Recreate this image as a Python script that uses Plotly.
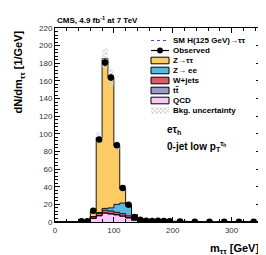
import plotly.graph_objects as go

# ---------------- data ----------------
bin_edges = [0, 10, 20, 30, 40, 50, 60, 70, 80, 90, 100, 110, 120, 130, 140, 150,
             160, 170, 180, 190, 200, 225, 250, 275, 300, 325, 350]

qcd   = [0, 0, 0, 0, 0.3, 0.8, 4.0, 7.0, 10.0, 9.0, 8.0, 6.5, 4.5, 2.0, 1.0, 0.6,
         0.5, 0.4, 0.3, 0.2, 0.15, 0.1, 0.1, 0.05, 0.05, 0.05]
ttbar = [0, 0, 0, 0, 0, 0.1, 0.2, 0.3, 0.4, 0.5, 0.5, 0.5, 0.5, 0.4, 0.4, 0.3,
         0.3, 0.3, 0.2, 0.2, 0.2, 0.15, 0.1, 0.1, 0.1, 0.05]
wjets = [0, 0, 0, 0, 0.1, 0.2, 1.5, 2.5, 3.0, 3.0, 2.5, 2.5, 2.0, 1.5, 1.0, 0.8,
         0.6, 0.5, 0.4, 0.3, 0.25, 0.2, 0.15, 0.1, 0.1, 0.05]
zee   = [0, 0, 0, 0, 0, 0, 0.5, 1.0, 2.0, 3.5, 9.0, 12.0, 11.0, 4.0, 1.2, 0.5,
         0.3, 0.2, 0.2, 0.1, 0.1, 0.05, 0.05, 0.02, 0.02, 0.02]
ztt   = [0, 0, 0, 0, 0, 0.3, 6.0, 85.0, 170.0, 148.0, 67.0, 16.0, 2.0, 0.5, 0.3, 0.2,
         0.15, 0.1, 0.1, 0.1, 0.05, 0.05, 0.02, 0.02, 0.02, 0.01]
bkg_unc = [0, 0, 0, 0, 0.1, 0.2, 1.0, 6.0, 11.0, 9.5, 5.0, 2.4, 1.3, 0.6, 0.3, 0.2,
           0.15, 0.1, 0.1, 0.08, 0.05, 0.04, 0.03, 0.02, 0.02, 0.02]

obs_x   = [45, 55, 65, 75, 85, 95, 105, 115, 125, 135, 145, 155, 165, 175, 185, 195,
           212.5, 237.5, 262.5, 287.5, 312.5, 337.5]
obs_y   = [0.9, 0.9, 12.8, 93.5, 181.0, 164.0, 87.0, 38.5, 19.5, 5.7, 2.6, 1.5,
           1.2, 1.3, 1.0, 0.8, 0.5, 0.4, 0.3, 0.3, 0.3, 0.2]
obs_err = [0.3, 0.3, 1.1, 3.1, 4.3, 4.0, 3.0, 2.0, 1.4, 0.8, 0.5, 0.4, 0.35, 0.36,
           0.3, 0.28, 0.14, 0.13, 0.11, 0.11, 0.11, 0.09]

x_ticks = [0, 100, 200, 300]
y_ticks = [0, 20, 40, 60, 80, 100, 120, 140, 160, 180, 200, 220]

# --------------- styles ---------------
FONT = "Liberation Sans"
C_ZTT, C_ZEE, C_W, C_TT, C_QCD = "#FDCB66", "#5DB7E4", "#DF5A6B", "#9B98CC", "#FCC8FA"

def step_y(vals):
    return list(vals) + [vals[-1]]

fig = go.Figure()

# stacked backgrounds (bottom to top)
components = [("QCD", qcd, C_QCD), ("tt", ttbar, C_TT), ("W+jets", wjets, C_W),
              ("Z->ee", zee, C_ZEE), ("Z->tautau", ztt, C_ZTT)]
cum = [0.0] * len(qcd)
first = True
for name, vals, col in components:
    cum = [a + b for a, b in zip(cum, vals)]
    fig.add_trace(go.Scatter(
        x=bin_edges, y=step_y(cum), mode="lines", line_shape="hv",
        line=dict(color="black", width=0.9), fill="tozeroy" if first else "tonexty",
        fillcolor=col, showlegend=False, hoverinfo="skip"))
    first = False
total = cum

# background uncertainty band
lo = [t - u for t, u in zip(total, bkg_unc)]
hi = [t + u for t, u in zip(total, bkg_unc)]
fig.add_trace(go.Scatter(x=bin_edges, y=step_y(lo), mode="lines", line_shape="hv",
                         line=dict(width=0, color="rgba(0,0,0,0)"), showlegend=False,
                         hoverinfo="skip"))
fig.add_trace(go.Scatter(x=bin_edges, y=step_y(hi), mode="lines", line_shape="hv",
                         line=dict(width=0, color="rgba(0,0,0,0)"), fill="tonexty",
                         fillcolor="rgba(0,0,0,0)",
                         fillpattern=dict(shape="x", fgcolor="#888888", bgcolor="rgba(255,255,255,0.35)",
                                          size=3, solidity=0.45),
                         showlegend=False, hoverinfo="skip"))

# observed data
fig.add_trace(go.Scatter(
    x=obs_x, y=obs_y, mode="markers",
    marker=dict(color="black", size=6.5, symbol="circle"),
    error_y=dict(type="data", array=obs_err, visible=True, color="black", thickness=1, width=0),
    showlegend=False, hoverinfo="skip"))

# --------------- manual legend ---------------
L, T, W, H = 47, 20, 206, 194          # plot area in pixels
def px(x): return (x - L) / W
def py(y): return (T + H - y) / H

legend_rows = [
    ("line_dash", "SM H(125 GeV)→ττ", None),
    ("obs", "Observed", None),
    ("box", "Z→ττ", C_ZTT),
    ("box", "Z→ ee", C_ZEE),
    ("box", "W+jets", C_W),
    ("box", "t<span style='text-decoration:overline'>t</span>", C_TT),
    ("box", "QCD", C_QCD),
    ("hatch", "Bkg. uncertainty", None),
]
sx0, sx1, tx = 143, 161, 163
for i, (kind, label, col) in enumerate(legend_rows):
    yc = 32.5 + 10 * i
    if kind == "line_dash":
        fig.add_shape(type="line", xref="paper", yref="paper", x0=px(sx0), x1=px(sx1),
                      y0=py(yc), y1=py(yc), line=dict(color="#4444FF", width=1.2, dash="dot"))
    elif kind == "obs":
        fig.add_shape(type="line", xref="paper", yref="paper", x0=px(sx0), x1=px(sx1),
                      y0=py(yc), y1=py(yc), line=dict(color="black", width=1.2))
        fig.add_shape(type="circle", xref="paper", yref="paper", x0=px(149), x1=px(155),
                      y0=py(yc + 3), y1=py(yc - 3), fillcolor="black", line=dict(width=0))
    elif kind == "box":
        fig.add_shape(type="rect", xref="paper", yref="paper", x0=px(sx0), x1=px(sx1),
                      y0=py(yc + 3.3), y1=py(yc - 3.3), fillcolor=col,
                      line=dict(color="black", width=1))
    else:
        fig.add_trace(go.Scatter(
            x=[px(sx0), px(sx1), px(sx1), px(sx0), px(sx0)],
            y=[py(yc + 3.3), py(yc + 3.3), py(yc - 3.3), py(yc - 3.3), py(yc + 3.3)],
            xaxis="x2", yaxis="y2", mode="lines", line=dict(width=0), fill="toself",
            fillcolor="rgba(0,0,0,0)",
            fillpattern=dict(shape="x", fgcolor="#888888", bgcolor="white", size=3, solidity=0.45),
            showlegend=False, hoverinfo="skip"))
    fig.add_annotation(xref="paper", yref="paper", x=px(tx), y=py(yc), xanchor="left",
                       yanchor="middle", text="<b>" + label + "</b>", showarrow=False,
                       font=dict(family=FONT, size=8, color="black"))

# channel / category text
fig.add_annotation(xref="paper", yref="paper", x=px(157), y=py(122), xanchor="left",
                   yanchor="middle", showarrow=False,
                   text="<b>eτ<sub>h</sub></b>", font=dict(family=FONT, size=10, color="black"))
fig.add_annotation(xref="paper", yref="paper", x=px(157), y=py(138), xanchor="left",
                   yanchor="middle", showarrow=False,
                   text="<b>0-jet low p<sub>T</sub><sup>τ<sub>h</sub></sup></b>",
                   font=dict(family=FONT, size=10, color="black"))

# header
fig.add_annotation(xref="paper", yref="paper", x=px(47), y=1, xanchor="left", yanchor="bottom",
                   yshift=1, showarrow=False,
                   text="<b>CMS, 4.9 fb<sup>-1</sup> at 7 TeV</b>",
                   font=dict(family=FONT, size=8, color="black"))

# axis titles
fig.add_annotation(xref="paper", yref="paper", x=1, y=-0.095, xanchor="right", yanchor="top",
                   showarrow=False, text="<b>m<sub>ττ</sub> [GeV]</b>",
                   font=dict(family=FONT, size=11, color="black"))
fig.add_annotation(xref="paper", yref="paper", x=-0.175, y=1, xanchor="center", yanchor="top",
                   textangle=-90, showarrow=False, text="<b>dN/dm<sub>ττ</sub> [1/GeV]</b>",
                   font=dict(family=FONT, size=11, color="black"))

axis_common = dict(showline=True, linecolor="black", linewidth=1, mirror="allticks",
                   ticks="inside", ticklen=5, tickwidth=1, tickcolor="black",
                   showgrid=False, zeroline=False,
                   tickfont=dict(family=FONT, size=8, color="#333333"))

fig.update_layout(
    width=266, height=255,
    margin=dict(l=L, r=266 - L - W, t=T, b=255 - T - H),
    paper_bgcolor="white", plot_bgcolor="white",
    showlegend=False,
    xaxis=dict(range=[0, 350], tickvals=x_ticks, ticktext=[str(v) for v in x_ticks],
               minor=dict(dtick=20, ticks="inside", ticklen=3, tickcolor="black"),
               **axis_common),
    yaxis=dict(range=[0, 220], tickvals=y_ticks, ticktext=[str(v) for v in y_ticks],
               minor=dict(dtick=4, ticks="inside", ticklen=3, tickcolor="black"),
               **axis_common),
    xaxis2=dict(overlaying="x", range=[0, 1], visible=False, fixedrange=True),
    yaxis2=dict(overlaying="y", range=[0, 1], visible=False, fixedrange=True),
)

fig.write_html("out.html")
